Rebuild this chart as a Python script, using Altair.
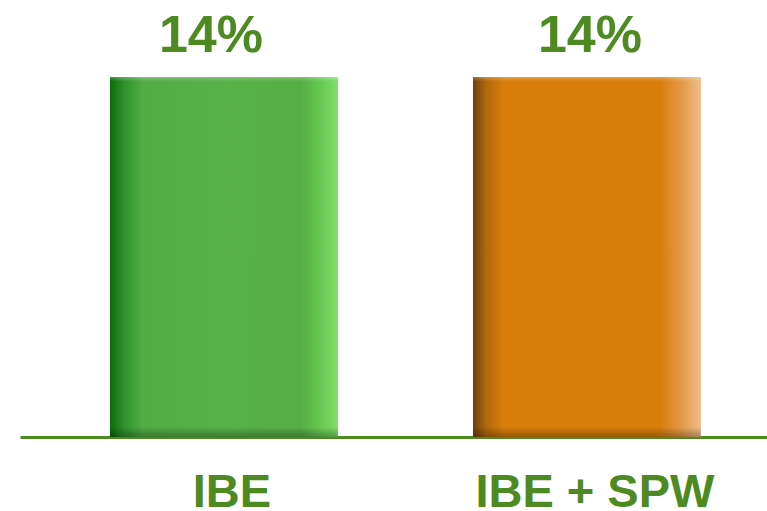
import altair as alt
import pandas as pd

categories = ["IBE", "IBE + SPW"]
values = [14, 14]
value_labels = ["14%", "14%"]

df = pd.DataFrame({"cat": categories, "val": values, "lab": value_labels})

TEXT_GREEN = "#4e8a22"

grad_styles = {
    "IBE": [("#0a6c0a", 0.0), ("#2f902c", 0.06), ("#52ab45", 0.14), ("#58b049", 0.5),
            ("#56ad45", 0.84), ("#6cce58", 0.94), ("#80e067", 1.0)],
    "IBE + SPW": [("#6a400e", 0.0), ("#b4690c", 0.06), ("#d97e0a", 0.14), ("#d97e0a", 0.5),
                  ("#d97e0a", 0.82), ("#e29c4c", 0.92), ("#ecbf86", 1.0)],
}
text_dx = {"IBE": -13, "IBE + SPW": 3}

x_scale = alt.Scale(domain=categories, paddingInner=0.372, paddingOuter=0.215, align=0.5766)
y_scale = alt.Scale(domain=[0, 17])

x_enc = alt.X("cat:N", scale=x_scale, sort=categories,
              axis=alt.Axis(title=None, ticks=False, tickSize=0, labelAngle=0,
                            labelFont="Liberation Sans", labelFontSize=47,
                            labelFontWeight="bold", labelColor=TEXT_GREEN,
                            labelPadding=32, labelOffset=8, labelLimit=1000,
                            domainColor=TEXT_GREEN, domainWidth=3))
y_enc = alt.Y("val:Q", scale=y_scale, axis=None)

layers = []
for cat in categories:
    base = alt.Chart(df).transform_filter(alt.datum.cat == cat)
    fill = alt.Gradient(gradient="linear",
                        stops=[alt.GradientStop(color=c, offset=o) for c, o in grad_styles[cat]],
                        x1=0, x2=1, y1=0, y2=0)
    layers.append(base.mark_bar(fill=fill).encode(x=x_enc, y=y_enc))
    shade = alt.Gradient(gradient="linear",
                         stops=[alt.GradientStop(color="rgba(255,255,255,0.25)", offset=0),
                                alt.GradientStop(color="rgba(255,255,255,0)", offset=0.012),
                                alt.GradientStop(color="rgba(0,0,0,0)", offset=0.972),
                                alt.GradientStop(color="rgba(0,0,0,0.3)", offset=1)],
                         x1=0, x2=0, y1=0, y2=1)
    layers.append(base.mark_bar(fill=shade).encode(x=x_enc, y=y_enc))
    layers.append(base.mark_text(font="Liberation Sans", fontSize=52, fontWeight="bold",
                                 color=TEXT_GREEN, baseline="alphabetic", dy=-25,
                                 dx=text_dx[cat])
                  .encode(x=x_enc, y=y_enc, text="lab:N"))

chart = alt.layer(*layers).properties(
    width=747, height=437,
    background="white",
    padding={"left": 20, "right": 0, "top": 0, "bottom": 74},
    autosize=alt.AutoSizeParams(type="none"),
).configure_view(strokeWidth=0, stroke="transparent")

chart.save("out.html", embed_options={"renderer": "svg", "actions": False})
